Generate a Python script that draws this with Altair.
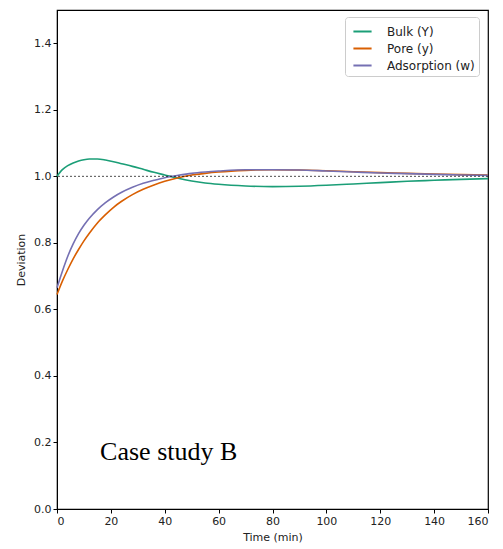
import altair as alt
import pandas as pd

time = [0, 2, 4, 6, 8, 10, 12, 15, 18, 21, 24, 28, 32, 36, 40, 45, 50, 55, 60,
        70, 80, 90, 100, 110, 120, 130, 140, 150, 160]
bulk = [1.000, 1.020, 1.032, 1.040, 1.046, 1.050, 1.052, 1.052, 1.049, 1.044, 1.038,
        1.030, 1.021, 1.012, 1.004, 0.994, 0.986, 0.980, 0.976, 0.971, 0.969, 0.970,
        0.973, 0.977, 0.981, 0.985, 0.988, 0.991, 0.993]
pore = [0.645, 0.685, 0.720, 0.752, 0.780, 0.806, 0.829, 0.860, 0.885, 0.907, 0.925,
        0.945, 0.961, 0.974, 0.985, 0.996, 1.004, 1.009, 1.013, 1.018, 1.020, 1.019,
        1.017, 1.014, 1.011, 1.009, 1.007, 1.005, 1.004]
adsorption = [0.665, 0.715, 0.760, 0.797, 0.828, 0.853, 0.874, 0.900, 0.921, 0.938,
              0.952, 0.967, 0.979, 0.988, 0.996, 1.003, 1.009, 1.013, 1.016, 1.020,
              1.020, 1.019, 1.016, 1.013, 1.010, 1.008, 1.006, 1.004, 1.003]
series_names = ["Bulk (Y)", "Pore (y)", "Adsorption (w)"]
series_colors = ["#1b9e77", "#d95f02", "#7570b3"]
x_ticks = [0, 20, 40, 60, 80, 100, 120, 140, 160]
y_ticks = [0.0, 0.2, 0.4, 0.6, 0.8, 1.0, 1.2, 1.4]

rows = []
for name, vals in zip(series_names, [bulk, pore, adsorption]):
    for t, v in zip(time, vals):
        rows.append({"Time": t, "Deviation": v, "Series": name})
df = pd.DataFrame(rows)

font = "DejaVu Sans"

x_enc = alt.X("Time:Q", scale=alt.Scale(domain=[0, 160], nice=False, zero=False),
              axis=alt.Axis(values=x_ticks, title="Time (min)", grid=False, titlePadding=5))
y_enc = alt.Y("Deviation:Q", scale=alt.Scale(domain=[0, 1.5], nice=False),
              axis=alt.Axis(values=y_ticks, format=".1f", title="Deviation", grid=False,
                            titlePadding=7))

ref = alt.Chart(pd.DataFrame({"v": [1.0]})).mark_rule(
    color="black", strokeDash=[2, 2], strokeWidth=0.7
).encode(y=alt.Y("v:Q"))

lines = alt.Chart(df).mark_line(strokeWidth=1.6, interpolate="monotone").encode(
    x=x_enc,
    y=y_enc,
    color=alt.Color("Series:N",
                    scale=alt.Scale(domain=series_names, range=series_colors),
                    sort=series_names,
                    legend=alt.Legend(title=None, orient="none", legendX=288, legendY=7,
                                      symbolType="stroke", symbolStrokeWidth=2,
                                      symbolSize=330, labelFontSize=12, labelFont=font,
                                      fillColor="white", strokeColor="#cccccc",
                                      padding=4, rowPadding=0, cornerRadius=3,
                                      symbolOffset=3, labelOffset=14,
                                      labelColor="#222222")),
)

txt = alt.Chart(pd.DataFrame({"t": [16], "v": [0.17], "s": ["Case study B"]})).mark_text(
    align="left", baseline="middle", font="Liberation Serif", fontSize=26, color="black"
).encode(x="t:Q", y="v:Q", text="s:N")

chart = alt.layer(lines, ref, txt).properties(
    width=431, height=499,
    autosize=alt.AutoSizeParams(type="none"),
    padding={"left": 49, "top": 2, "right": 7, "bottom": 40},
).configure_view(stroke="black", strokeWidth=1.2).configure_axis(
    labelFont=font, titleFont=font, labelFontSize=11, titleFontSize=11,
    titleFontWeight="normal", labelColor="#222222", titleColor="#222222",
    domainColor="black", tickColor="black", tickSize=4, labelPadding=2,
)

chart.save("out.html", embed_options={"renderer": "svg", "actions": False})
